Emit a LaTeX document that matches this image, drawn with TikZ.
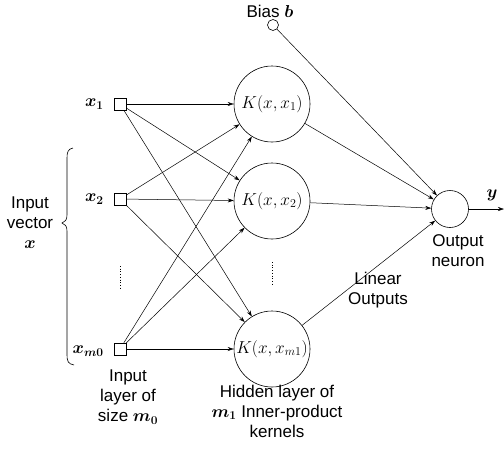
\documentclass[tikz,border=0pt]{standalone}
\usepackage{bm}
\usepackage{fontspec}
\setmainfont{Liberation Sans}
\usetikzlibrary{arrows.meta}
\begin{document}
\begin{tikzpicture}[x=1pt,y=-1pt,
  lbl/.style={font=\fontsize{17}{20}\selectfont, align=center, inner sep=0pt},
  mlbl/.style={font=\fontsize{17}{20}\selectfont, inner sep=0pt},
  hid/.style={circle, draw, minimum size=76pt, inner sep=0pt, font=\fontsize{17}{20}\selectfont},
  inp/.style={rectangle, draw, minimum size=12pt, inner sep=0pt},
  arr/.style={-{Stealth[length=6pt,width=4pt]}, line width=0.5pt},
  line width=0.6pt]
\useasboundingbox (0,0) rectangle (504,451);
% input squares
\node[inp] (x1) at (120,104) {};
\node[inp] (x2) at (120,199) {};
\node[inp] (xm) at (120,349) {};
\node[mlbl, anchor=east] (lx1) at (104,104) {$\bm{x}_{\bm{1}}$};
\node[mlbl, anchor=east] (lx2) at (104,199) {$\bm{x}_{\bm{2}}$};
\node[mlbl, anchor=east] (lxm) at (104,351) {$\bm{x}_{\bm{m0}}$};
% hidden
\node[hid] (k1) at (272,104) {$K(x,x_1)$};
\node[hid] (k2) at (272,201) {$K(x,x_2)$};
\node[hid] (k3) at (272,349) {$K(x,x_{m1})$};
% output
\node[circle, draw, minimum size=37pt, inner sep=0pt] (o) at (450,209) {};
\coordinate (yend) at (504,209);
\node[mlbl] (ly) at (492,195) {$\bm{y}$};
% bias
\node[circle, draw, minimum size=11pt, inner sep=0pt] (b) at (273,25) {};
\node[lbl] (lb) at (270,11) {Bias $\bm{b}$};
% input connections
\foreach \i in {x1,x2,xm}{
  \foreach \k in {k1,k2,k3}{
    \draw[arr] (\i) -- (\k);
  }
}
% output connections
\draw[arr] (b) -- (o);
\draw[arr] (k1) -- (o);
\draw[arr] (k2) -- (o);
\draw[arr] (k3) -- (o);
\draw[arr] (o) -- (yend);
% dots
\draw[dotted, line width=0.7pt] (120,266) -- (120,290);
\draw[dotted, line width=0.7pt] (272,262) -- (272,286);
% brace
\draw[line width=0.6pt] (73,148) .. controls (68,149) and (67,152) .. (67,158) -- (67,215) .. controls (67,220) and (65,222) .. (62,223) .. controls (65,224) and (67,226) .. (67,231) -- (67,355) .. controls (67,361) and (68,364) .. (74,365);
% labels
\node[lbl] (liv) at (30,223) {Input\\vector\\$\bm{x}$};
\node[lbl] (lin) at (128,397) {Input\\layer of\\size $\bm{m}_{\bm{0}}$};
\node[lbl] (lhid) at (277,411) {Hidden layer of\\$\bm{m}_{\bm{1}}$ Inner-product\\kernels};
\node[lbl] (llin) at (378,290) {Linear\\Outputs};
\node[lbl] (lout) at (458,251) {Output\\neuron};
\end{tikzpicture}
\end{document}
